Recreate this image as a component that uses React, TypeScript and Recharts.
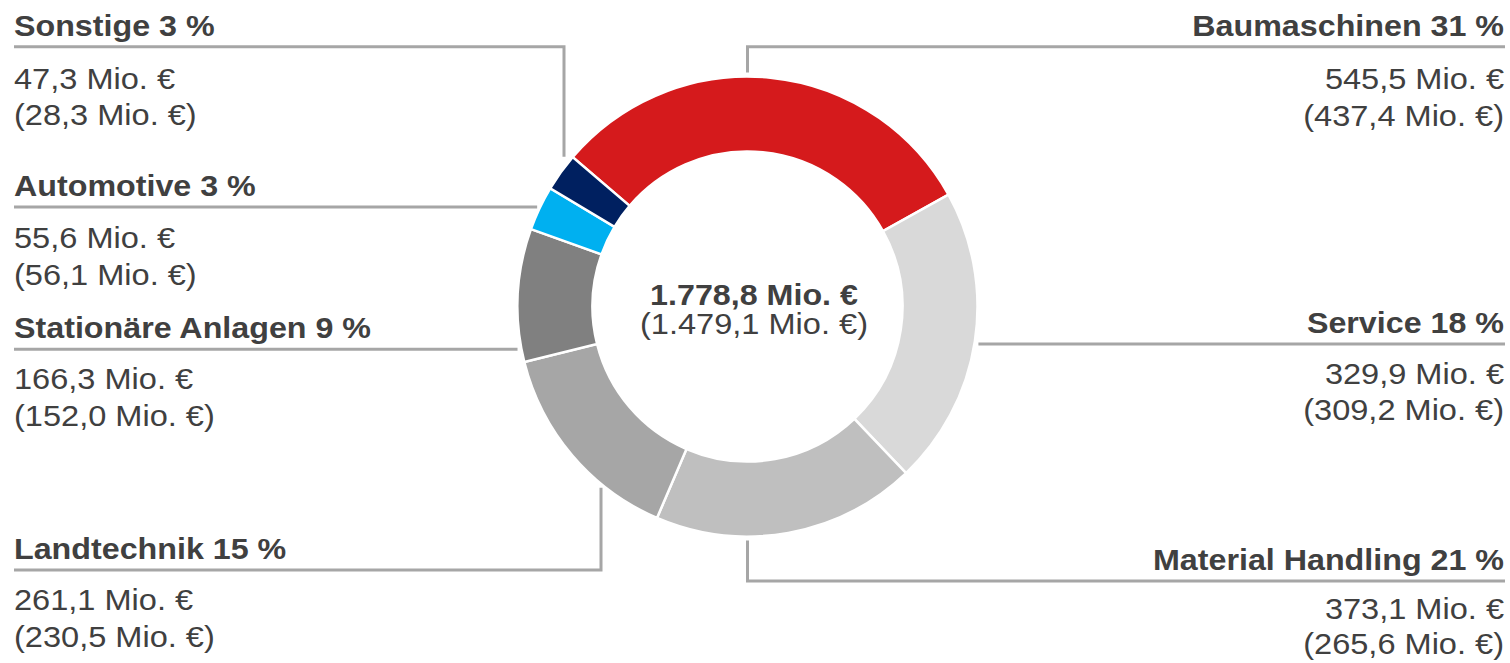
import { PieChart, Pie, Cell } from "recharts";

// slice order as drawn, clockwise from the red one
const segments = [
  "Baumaschinen",
  "Material Handling",
  "Service",
  "Landtechnik",
  "Stationäre Anlagen",
  "Automotive",
  "Sonstige",
];
const revenue = [545.5, 373.1, 329.9, 261.1, 166.3, 55.6, 47.3];
const revenuePrior = [437.4, 265.6, 309.2, 230.5, 152.0, 56.1, 28.3];
const shares = [31, 21, 18, 15, 9, 3, 3];
const colors = ["#d51a1c", "#d9d9d9", "#bfbfbf", "#a6a6a6", "#808080", "#00b0f0", "#002060"];

// label placement: side, y of the underline, optional elbow x, gap to the ring, value line offsets
const labelLayout = [
  { side: "right", lineY: 46.7, elbowX: "center", gap: 4, v1: 42.5, v2: 79 },
  { side: "right", lineY: 581, elbowX: "center", gap: 4, v1: 37.5, v2: 72.5 },
  { side: "right", lineY: 344, elbowX: null, gap: 4, v1: 40, v2: 76 },
  { side: "left", lineY: 570, elbowX: 601, gap: 4, v1: 40, v2: 76.5 },
  { side: "left", lineY: 349.3, elbowX: null, gap: 4, v1: 40, v2: 76.5 },
  { side: "left", lineY: 207, elbowX: null, gap: 3, v1: 41, v2: 77.5 },
  { side: "left", lineY: 46.7, elbowX: 564, gap: 11, v1: 42.5, v2: 78.5 },
];

const data = segments.map((name, i) => ({ name, value: revenue[i] }));

const TEXT = "#404040";
const LINE = "#a6a6a6";
const FONT = "'Liberation Sans', Arial, sans-serif";
const FONT_SIZE = 30;
const SX_BOLD = 1.075;
const SX_REG = 1.085;
const LEFT_X = 14;
const RIGHT_X = 1505;

const fmt = (v: number) => {
  const [int, dec] = v.toFixed(1).split(".");
  return int.replace(/\B(?=(\d{3})+(?!\d))/g, ".") + "," + dec;
};

const total = revenue.reduce((a, b) => a + b, 0);
const totalPrior = revenuePrior.reduce((a, b) => a + b, 0);

const Txt = ({ x, y, anchor, bold, children }: any) => (
  <text
    transform={`translate(${x},${y}) scale(${bold ? SX_BOLD : SX_REG},1)`}
    textAnchor={anchor}
    fill={TEXT}
    fontFamily={FONT}
    fontSize={FONT_SIZE}
    fontWeight={bold ? "bold" : "normal"}
  >
    {children}
  </text>
);

const renderLabel = (props: any) => {
  const { cx, cy, outerRadius, index } = props;
  const l = labelLayout[index];
  const R = outerRadius;
  const right = l.side === "right";
  const edgeX = right ? RIGHT_X : LEFT_X;
  let points: string;
  if (l.elbowX !== null) {
    const ex = l.elbowX === "center" ? cx : (l.elbowX as number);
    const h = Math.sqrt(R * R - (ex - cx) * (ex - cx));
    const above = l.lineY < cy;
    const endY = above ? cy - h - l.gap : cy + h + l.gap;
    points = `${edgeX},${l.lineY} ${ex},${l.lineY} ${ex},${endY}`;
  } else {
    const w = Math.sqrt(R * R - (l.lineY - cy) * (l.lineY - cy));
    const endX = right ? cx + w + l.gap : cx - w - l.gap;
    points = `${edgeX},${l.lineY} ${endX},${l.lineY}`;
  }
  const anchor = right ? "end" : "start";
  const tx = right ? RIGHT_X - 1 : LEFT_X;
  return (
    <g key={`lbl-${index}`}>
      <polyline points={points} fill="none" stroke={LINE} strokeWidth={3} />
      <Txt x={tx} y={l.lineY - 11} anchor={anchor} bold>
        {`${segments[index]} ${shares[index]} %`}
      </Txt>
      <Txt x={tx} y={l.lineY + l.v1} anchor={anchor}>
        {`${fmt(revenue[index])} Mio. €`}
      </Txt>
      <Txt x={tx} y={l.lineY + l.v2} anchor={anchor}>
        {`(${fmt(revenuePrior[index])} Mio. €)`}
      </Txt>
      {index === 0 && (
        <g>
          <Txt x={cx + 6.5} y={cy - 1.5} anchor="middle" bold>
            {`${fmt(total)} Mio. €`}
          </Txt>
          <Txt x={cx + 6.5} y={cy + 27.5} anchor="middle">
            {`(${fmt(totalPrior)} Mio. €)`}
          </Txt>
        </g>
      )}
    </g>
  );
};

const App = () => {
  return (
    <div style={{ position: "absolute", left: 0, top: 0, width: 1510, height: 663, background: "#fff" }}>
      <PieChart width={1510} height={663} margin={{ top: 0, right: 0, bottom: 0, left: 0 }}>
        <Pie
          data={data}
          dataKey="value"
          nameKey="name"
          cx={747.5}
          cy={306.5}
          innerRadius={155}
          outerRadius={230}
          startAngle={139.5}
          endAngle={-220.5}
          stroke="#ffffff"
          strokeWidth={2.5}
          label={renderLabel}
          labelLine={false}
          isAnimationActive={false}
        >
          {data.map((d, i) => (
            <Cell key={d.name} fill={colors[i]} />
          ))}
        </Pie>
      </PieChart>
    </div>
  );
};

export default App;
